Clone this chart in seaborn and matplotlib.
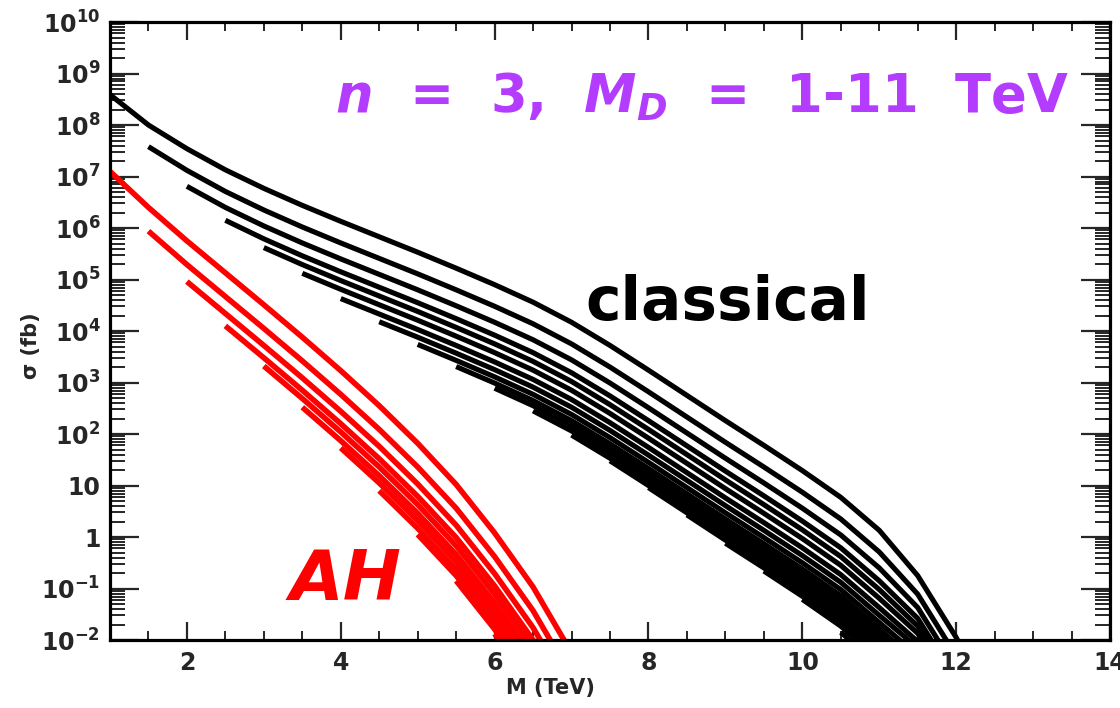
import numpy as np
import pandas as pd
import matplotlib
matplotlib.use("Agg")
import matplotlib.pyplot as plt
import seaborn as sns
from matplotlib.ticker import MultipleLocator, LogLocator, FuncFormatter, NullFormatter

# ---------------- data (log10 of sigma in fb) ----------------
mass_grid = [1.0, 1.5, 2.0, 2.5, 3.0, 3.5, 4.0, 4.5, 5.0, 5.5, 6.0, 6.5,
             7.0, 7.5, 8.0, 8.5, 9.0, 9.5, 10.0, 10.5, 11.0, 11.5, 12.0, 12.5]

# classical black holes, one curve per M_D (curve starts at M = M_D)
cl_md_1_0 = [8.59, 8.00, 7.54, 7.13, 6.77, 6.44, 6.13, 5.83, 5.53, 5.22, 4.90, 4.56,
             4.17, 3.72, 3.24, 2.75, 2.26, 1.78, 1.29, 0.77, 0.13, -0.75, -1.95, -3.40]
cl_md_1_5 = [7.58, 7.12, 6.71, 6.35, 6.02, 5.71, 5.41, 5.11, 4.80, 4.48, 4.14, 3.75,
             3.30, 2.82, 2.33, 1.84, 1.36, 0.87, 0.35, -0.29, -1.11, -2.31]
cl_md_2_0 = [6.81, 6.40, 6.04, 5.71, 5.40, 5.10, 4.80, 4.49, 4.17, 3.83, 3.44, 2.99,
             2.51, 2.02, 1.53, 1.05, 0.56, 0.04, -0.60, -1.37, -2.57]
cl_md_2_5 = [6.15, 5.79, 5.46, 5.15, 4.85, 4.55, 4.24, 3.92, 3.58, 3.19, 2.74, 2.26,
             1.77, 1.28, 0.80, 0.31, -0.21, -0.85, -1.58, -2.78]
cl_md_3_0 = [5.62, 5.29, 4.98, 4.68, 4.38, 4.07, 3.75, 3.41, 3.02, 2.57, 2.09, 1.60,
             1.11, 0.63, 0.14, -0.38, -1.02, -1.73, -2.93]
cl_md_3_5 = [5.12, 4.81, 4.51, 4.21, 3.90, 3.58, 3.24, 2.85, 2.40, 1.92, 1.43, 0.94,
             0.46, -0.03, -0.55, -1.19, -1.87, -3.07]
cl_md_4_0 = [4.63, 4.33, 4.03, 3.72, 3.40, 3.06, 2.67, 2.22, 1.74, 1.25, 0.76, 0.28,
             -0.21, -0.73, -1.37, -2.03]
cl_md_4_5 = [4.18, 3.88, 3.57, 3.25, 2.91, 2.52, 2.07, 1.59, 1.10, 0.61, 0.13, -0.36,
             -0.88, -1.52, -2.15]
cl_md_5_0 = [3.74, 3.43, 3.11, 2.77, 2.38, 1.93, 1.45, 0.96, 0.47, -0.01, -0.50, -1.02,
             -1.66, -2.30]
cl_md_5_5 = [3.31, 2.99, 2.65, 2.26, 1.81, 1.33, 0.84, 0.35, -0.13, -0.62, -1.14, -1.78,
             -2.45]
cl_md_6_0 = [2.89, 2.55, 2.16, 1.71, 1.23, 0.74, 0.25, -0.23, -0.72, -1.24, -1.88, -2.55]
cl_md_6_5 = [2.45, 2.06, 1.61, 1.13, 0.64, 0.15, -0.33, -0.82, -1.34, -1.98, -2.65]
cl_md_7_0 = [1.98, 1.53, 1.05, 0.56, 0.07, -0.41, -0.90, -1.42, -2.06]
cl_md_7_5 = [1.48, 1.00, 0.51, 0.02, -0.46, -0.95, -1.47, -2.11]
cl_md_8_0 = [0.96, 0.47, -0.02, -0.50, -0.99, -1.51, -2.15]
cl_md_8_5 = [0.43, -0.06, -0.54, -1.03, -1.55, -2.19]
cl_md_9_0 = [-0.12, -0.60, -1.09, -1.61, -2.25]
cl_md_9_5 = [-0.66, -1.15, -1.67, -2.31]
cl_md_10_0 = [-1.21, -1.73, -2.37]
cl_md_10_5 = [-1.85, -2.49]

# AH black holes
ah_md_1_0 = [7.10, 6.40, 5.75, 5.13, 4.51, 3.88, 3.23, 2.55, 1.82, 1.02, 0.08, -0.97, -2.25]
ah_md_1_5 = [5.94, 5.29, 4.67, 4.05, 3.42, 2.77, 2.09, 1.36, 0.56, -0.38, -1.43, -2.71]
ah_md_2_0 = [4.96, 4.34, 3.72, 3.09, 2.44, 1.76, 1.03, 0.23, -0.71, -1.76, -3.04]
ah_md_2_5 = [4.10, 3.48, 2.85, 2.20, 1.52, 0.79, -0.01, -0.95, -2.00, -3.28]
ah_md_3_0 = [3.32, 2.69, 2.04, 1.36, 0.63, -0.17, -1.11, -2.16]
ah_md_3_5 = [2.52, 1.87, 1.19, 0.46, -0.34, -1.28, -2.33]
ah_md_4_0 = [1.73, 1.05, 0.32, -0.48, -1.42, -2.47]
ah_md_4_5 = [0.90, 0.17, -0.63, -1.57, -2.62]
ah_md_5_0 = [0.05, -0.75, -1.69, -2.74]
ah_md_5_5 = [-0.85, -1.79, -2.84]
ah_md_6_0 = [-1.88, -2.93]

classical_md = [1.0, 1.5, 2.0, 2.5, 3.0, 3.5, 4.0, 4.5, 5.0, 5.5,
                6.0, 6.5, 7.0, 7.5, 8.0, 8.5, 9.0, 9.5, 10.0, 10.5]
classical_curves = [cl_md_1_0, cl_md_1_5, cl_md_2_0, cl_md_2_5, cl_md_3_0, cl_md_3_5,
                    cl_md_4_0, cl_md_4_5, cl_md_5_0, cl_md_5_5, cl_md_6_0, cl_md_6_5,
                    cl_md_7_0, cl_md_7_5, cl_md_8_0, cl_md_8_5, cl_md_9_0, cl_md_9_5,
                    cl_md_10_0, cl_md_10_5]
ah_md = [1.0, 1.5, 2.0, 2.5, 3.0, 3.5, 4.0, 4.5, 5.0, 5.5, 6.0]
ah_curves = [ah_md_1_0, ah_md_1_5, ah_md_2_0, ah_md_2_5, ah_md_3_0, ah_md_3_5,
             ah_md_4_0, ah_md_4_5, ah_md_5_0, ah_md_5_5, ah_md_6_0]

title_text = r"$\mathit{n}$  =  3,  $\mathit{M}_{\mathit{D}}$  =  1-11  TeV"
x_label = "M (TeV)"
y_label = "σ (fb)"


def build_frame(mds, curves, model):
    rows = []
    for md, vals in zip(mds, curves):
        start = mass_grid.index(md)
        for k, v in enumerate(vals):
            rows.append({"model": model, "MD": md, "M": mass_grid[start + k],
                         "sigma": 10.0 ** v})
    return pd.DataFrame(rows)


df_cl = build_frame(classical_md, classical_curves, "classical")
df_ah = build_frame(ah_md, ah_curves, "AH")

# ---------------- style ----------------
sns.set_style("white")
plt.rcParams["font.family"] = ["DejaVu Sans"]
plt.rcParams["font.weight"] = "bold"
plt.rcParams["mathtext.fontset"] = "custom"
plt.rcParams["mathtext.rm"] = "DejaVu Sans:bold"
plt.rcParams["mathtext.bf"] = "DejaVu Sans:bold"
plt.rcParams["mathtext.it"] = "DejaVu Sans:italic:bold"
plt.rcParams["mathtext.default"] = "rm"
plt.rcParams["lines.solid_capstyle"] = "butt"
plt.rcParams["lines.solid_joinstyle"] = "round"

fig = plt.figure(figsize=(11.2, 7.08), dpi=100)
ax = fig.add_axes([0.0982, 0.096, 0.8929, 0.8729])

sns.lineplot(data=df_cl, x="M", y="sigma", units="MD", estimator=None, sort=False,
             color="black", linewidth=3.7, ax=ax, legend=False)
sns.lineplot(data=df_ah, x="M", y="sigma", units="MD", estimator=None, sort=False,
             color="#ff0000", linewidth=4.0, ax=ax, legend=False)

ax.set_yscale("log")
ax.set_xlim(1, 14)
ax.set_ylim(1e-2, 1e10)

ax.xaxis.set_major_locator(MultipleLocator(2))
ax.xaxis.set_minor_locator(MultipleLocator(0.5))
ax.yaxis.set_major_locator(LogLocator(base=10, subs=(1.0,), numticks=100))
ax.yaxis.set_minor_locator(LogLocator(base=10, subs=np.arange(2, 10), numticks=100))
ax.yaxis.set_minor_formatter(NullFormatter())


def ylab(v, pos):
    e = int(round(np.log10(v)))
    if e == 0:
        return "1"
    if e == 1:
        return "10"
    return r"$10^{%d}$" % e


ax.yaxis.set_major_formatter(FuncFormatter(ylab))
ax.xaxis.set_major_formatter(FuncFormatter(lambda v, p: "%d" % v))

ax.tick_params(axis="y", which="major", direction="in", length=21, width=1.6,
               left=True, right=True, labelsize=17, pad=7)
ax.tick_params(axis="y", which="minor", direction="in", length=11, width=1.4,
               left=True, right=True)
ax.tick_params(axis="x", which="major", direction="in", length=13, width=1.6,
               top=True, bottom=True, labelsize=17, pad=8)
ax.tick_params(axis="x", which="minor", direction="in", length=6.5, width=1.4,
               top=True, bottom=True)
for lab in ax.get_xticklabels() + ax.get_yticklabels():
    lab.set_fontweight("bold")

for sp in ax.spines.values():
    sp.set_linewidth(2.3)
    sp.set_color("black")

ax.set_xlabel(x_label, fontsize=15, fontweight="bold")
ax.set_ylabel(y_label, fontsize=15, fontweight="bold")
ax.xaxis.set_label_coords(0.44, -0.062)
ax.yaxis.set_label_coords(-0.069, 0.477)

ax.text(0.225, 0.854, title_text, transform=ax.transAxes, color="#b43cff",
        fontsize=38, fontweight="bold", ha="left", va="baseline")
ax.text(0.475, 0.518, "classical", transform=ax.transAxes, color="black",
        fontsize=43, fontweight="bold", ha="left", va="baseline")
ax.text(0.18, 0.065, "AH", transform=ax.transAxes, color="#ff0000",
        fontsize=50, fontweight="bold", fontstyle="italic", ha="left", va="baseline")

fig.savefig("out.png", dpi=100)
